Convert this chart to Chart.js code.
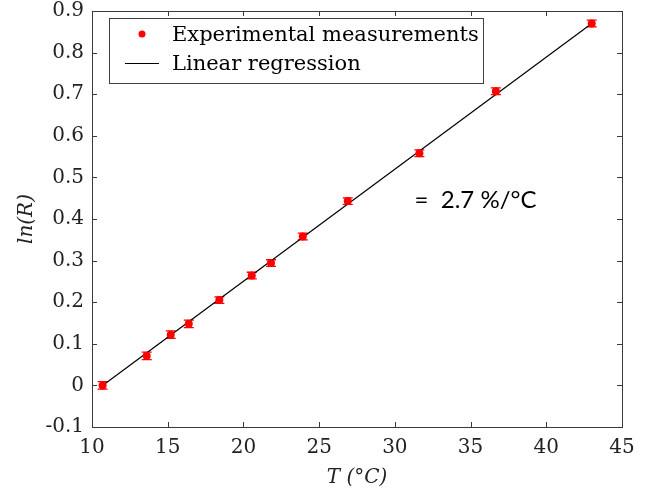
<!DOCTYPE html>
<html>
<head>
<meta charset="utf-8">
<script src="https://cdn.jsdelivr.net/npm/chart.js@4/dist/chart.umd.min.js"></script>
<style>
html,body{margin:0;padding:0;background:#fff;}
#wrap{width:651px;height:494px;}
</style>
</head>
<body>
<div id="wrap"><canvas id="c" width="651" height="494"></canvas></div>
<script>
// ---- data ----
const temperatures = [10.7, 13.61, 15.2, 16.39, 18.41, 20.55, 21.82, 23.92, 26.89, 31.62, 36.67, 43.0];
const lnR          = [0.0, 0.071, 0.122, 0.148, 0.205, 0.264, 0.294, 0.358, 0.443, 0.558, 0.707, 0.870];
const lnRError     = [0.009, 0.009, 0.009, 0.009, 0.008, 0.008, 0.008, 0.008, 0.008, 0.008, 0.008, 0.008];
const regressionT  = [10.7, 43.0];
const regressionY  = [0.0, 0.870];
const xTicks = [10, 15, 20, 25, 30, 35, 40, 45];
const yTicks = [-0.1, 0, 0.1, 0.2, 0.3, 0.4, 0.5, 0.6, 0.7, 0.8, 0.9];
const legendLabels = ['Experimental measurements', 'Linear regression'];
const annotationText = '=  2.7 %/°C';
const annotationPos = {x: 31.3, y: 0.445};

const SERIF = '"DejaVu Serif", serif';
const AXIS = '#3a3a3a';

const errorBars = {
  id: 'errorBars',
  beforeDatasetsDraw(chart) {
    const {ctx, scales: {x, y}} = chart;
    ctx.save();
    ctx.strokeStyle = '#ff0000';
    ctx.lineWidth = 1.3;
    temperatures.forEach((t, i) => {
      const px = x.getPixelForValue(t);
      const y1 = y.getPixelForValue(lnR[i] + lnRError[i]);
      const y2 = y.getPixelForValue(lnR[i] - lnRError[i]);
      ctx.beginPath();
      ctx.moveTo(px, y1); ctx.lineTo(px, y2);
      ctx.moveTo(px - 5, y1); ctx.lineTo(px + 5, y1);
      ctx.moveTo(px - 5, y2); ctx.lineTo(px + 5, y2);
      ctx.stroke();
    });
    ctx.restore();
  }
};

const frame = {
  id: 'frame',
  afterDraw(chart) {
    const {ctx, chartArea: a, scales: {x, y}} = chart;
    ctx.save();
    ctx.strokeStyle = AXIS;
    ctx.lineWidth = 1;
    ctx.strokeRect(Math.round(a.left) + 0.5, Math.round(a.top) + 0.5,
                   Math.round(a.right - a.left), Math.round(a.bottom - a.top));
    const tl = 5;
    ctx.beginPath();
    xTicks.forEach(v => {
      const px = Math.round(x.getPixelForValue(v)) + 0.5;
      ctx.moveTo(px, a.bottom); ctx.lineTo(px, a.bottom - tl);
      ctx.moveTo(px, a.top); ctx.lineTo(px, a.top + tl);
    });
    yTicks.forEach(v => {
      const py = Math.round(y.getPixelForValue(v)) + 0.5;
      ctx.moveTo(a.left, py); ctx.lineTo(a.left + tl, py);
      ctx.moveTo(a.right, py); ctx.lineTo(a.right - tl, py);
    });
    ctx.stroke();

    // legend
    const lx = a.left + 17, ly = a.top + 7, lw = 374, lh = 65;
    ctx.fillStyle = '#fff';
    ctx.fillRect(lx, ly, lw, lh);
    ctx.strokeStyle = '#404040';
    ctx.strokeRect(Math.round(lx) + 0.5, Math.round(ly) + 0.5, lw, lh);
    ctx.fillStyle = '#ff0000';
    ctx.beginPath();
    ctx.arc(lx + 33, ly + 16, 3.5, 0, Math.PI * 2);
    ctx.fill();
    ctx.strokeStyle = '#000';
    ctx.beginPath();
    ctx.moveTo(lx + 16, ly + 45.5); ctx.lineTo(lx + 50, ly + 45.5);
    ctx.stroke();
    ctx.fillStyle = '#000';
    ctx.font = '21px ' + SERIF;
    ctx.textBaseline = 'middle';
    ctx.textAlign = 'left';
    ctx.fillText(legendLabels[0], lx + 63, ly + 18);
    ctx.fillText(legendLabels[1], lx + 63, ly + 47);

    // annotation
    ctx.font = '24px Lato, "Open Sans", sans-serif';
    ctx.fillText(annotationText, x.getPixelForValue(annotationPos.x), y.getPixelForValue(annotationPos.y));
    ctx.restore();
  }
};

new Chart(document.getElementById('c'), {
  type: 'scatter',
  data: {
    datasets: [
      {
        label: legendLabels[1],
        type: 'line',
        data: regressionT.map((t, i) => ({x: t, y: regressionY[i]})),
        borderColor: '#000',
        borderWidth: 1.2,
        pointRadius: 0,
        fill: false,
        order: 2
      },
      {
        label: legendLabels[0],
        data: temperatures.map((t, i) => ({x: t, y: lnR[i]})),
        backgroundColor: '#ff0000',
        borderColor: '#ff0000',
        pointRadius: 4,
        pointBorderWidth: 0,
        order: 1
      }
    ]
  },
  plugins: [errorBars, frame],
  options: {
    responsive: false,
    animation: false,
    layout: {padding: {top: 11, right: 29, left: 0, bottom: 0}},
    plugins: {legend: {display: false}, tooltip: {enabled: false}},
    scales: {
      x: {
        type: 'linear', min: 10, max: 45,
        afterFit(s) { s.height = 67; s.paddingLeft = 0; s.paddingRight = 0; },
        afterBuildTicks(s) { s.ticks = xTicks.map(v => ({value: v})); },
        grid: {display: false, drawTicks: false},
        border: {display: false},
        ticks: {color: '#222', font: {family: SERIF, size: 20}, padding: 9, maxRotation: 0,
                callback: v => String(v)},
        title: {display: true, text: 'T (°C)', color: '#222',
                font: {family: SERIF, size: 20, style: 'italic'}, padding: {top: 0, bottom: 4}}
      },
      y: {
        type: 'linear', min: -0.1, max: 0.9,
        afterFit(s) { s.width = 92; s.paddingTop = 0; s.paddingBottom = 0; },
        afterBuildTicks(s) { s.ticks = yTicks.map(v => ({value: v})); },
        grid: {display: false, drawTicks: false},
        border: {display: false},
        ticks: {color: '#222', font: {family: SERIF, size: 20}, padding: 8,
                callback: v => String(v)},
        title: {display: true, text: 'ln(R)', color: '#222',
                font: {family: SERIF, size: 20, style: 'italic'}, padding: {top: 15, bottom: 0}}
      }
    }
  }
});
</script>
</body>
</html>
